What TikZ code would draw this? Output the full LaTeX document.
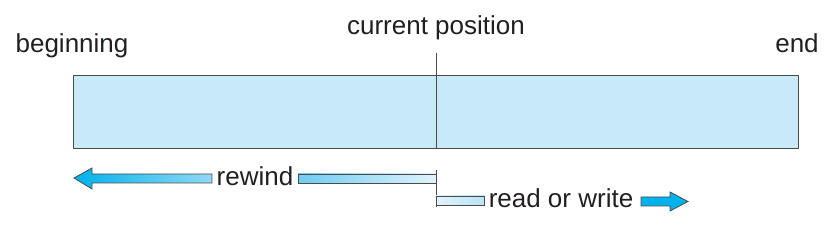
\documentclass[tikz,border=0pt]{standalone}
\usepackage{fontspec}
\setmainfont{Liberation Sans}
\definecolor{tapefill}{RGB}{199,233,248}
\definecolor{edgegray}{RGB}{75,75,75}
\definecolor{cyanarrow}{RGB}{0,178,236}
\definecolor{midcyan}{RGB}{110,205,242}
\definecolor{palecyan}{RGB}{225,243,251}
\definecolor{barcyan}{RGB}{185,226,246}
\definecolor{txt}{RGB}{35,31,32}
\begin{document}
\begin{tikzpicture}[x=1pt,y=-1pt,
  lbl/.style={inner sep=0pt,text=txt,font=\fontsize{26}{30}\selectfont,anchor=base},
  outline/.style={draw=edgegray,line width=1pt}]
\useasboundingbox (0,0) rectangle (831,240);
% tape
\node[outline,fill=tapefill,minimum width=725pt,minimum height=73pt,inner sep=0pt,anchor=north west] (tape) at (73,75) {};
\coordinate (cpTop) at (436,53);
\coordinate (cpBot) at (436,148);
\draw[edgegray,line width=1pt] (cpTop) -- (cpBot);
% labels
\node[lbl] (beg) at (72,53) {beginning};
\node[lbl] (cur) at (436,35) {current position};
\node[lbl] (endl) at (797,53) {end};
% rewind arrow
\node[lbl] (rew) at (255,186) {rewind};
\shade[left color=cyanarrow,right color=midcyan!70!palecyan,draw=edgegray,line width=0.8pt]
  (74,178) -- (92,168) -- (92,174) -- (212,174) -- (212,183) -- (92,183) -- (92,189) -- cycle;
\shade[left color=midcyan,right color=palecyan,draw=edgegray,line width=0.8pt]
  (298,174) rectangle (436,183);
% tick
\coordinate (tickTop) at (436,170);
\coordinate (tickBot) at (436,207);
\draw[edgegray,line width=1pt] (tickTop) -- (tickBot);
% read or write
\shade[left color=palecyan,right color=barcyan,draw=edgegray,line width=0.8pt]
  (436,196) rectangle (484,205);
\node[lbl] (rw) at (561,208) {read or write};
\fill[cyanarrow,draw=edgegray,line width=0.8pt]
  (641,197) -- (670,197) -- (670,192) -- (688,201.5) -- (670,211) -- (670,206) -- (641,206) -- cycle;
\end{tikzpicture}
\end{document}
